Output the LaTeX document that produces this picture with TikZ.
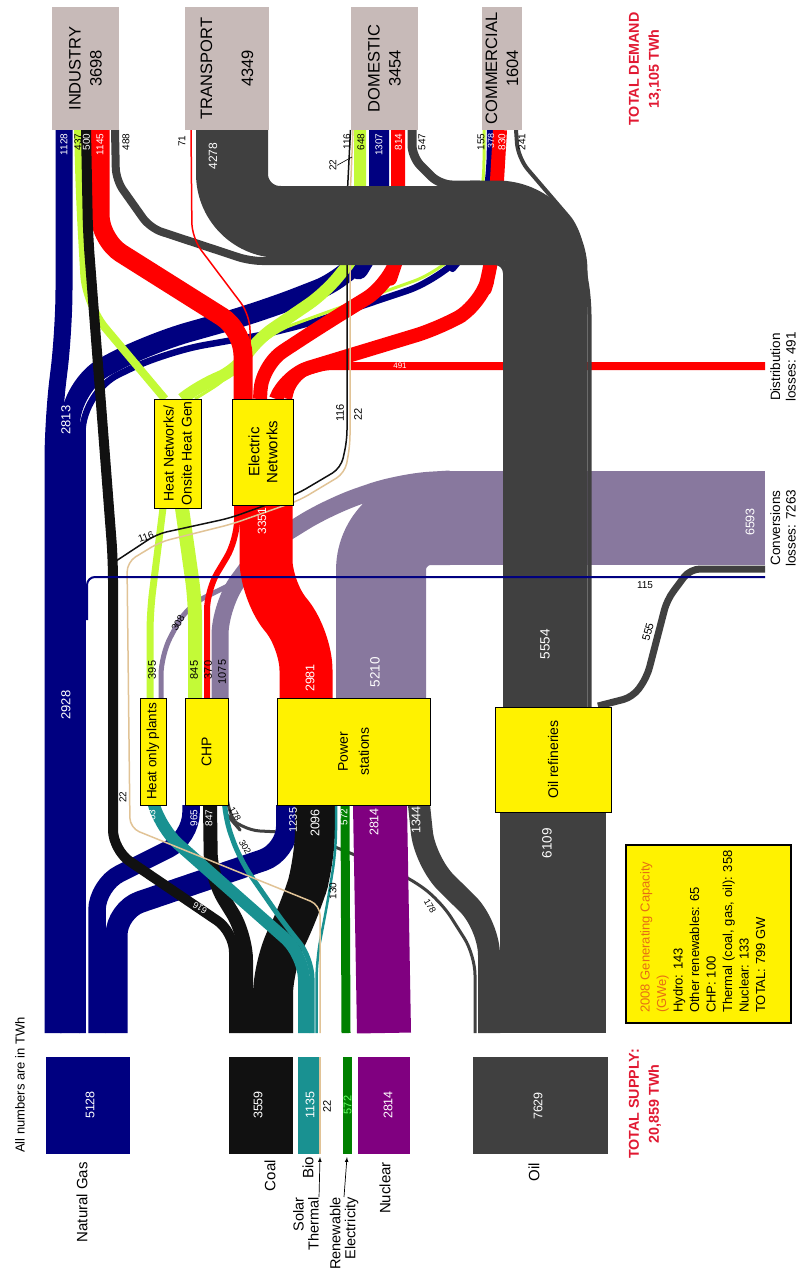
\documentclass[tikz,border=0pt]{standalone}
\usepackage{fontspec}
\setmainfont{Liberation Sans}

\newcommand{\fsz}[2]{\fontsize{#1}{#2}\selectfont}

% Flow colours
\definecolor{gas}{RGB}{0,0,128}
\definecolor{heat}{RGB}{195,250,55}
\definecolor{elec}{RGB}{255,0,0}
\definecolor{coal}{RGB}{17,17,17}
\definecolor{bio}{RGB}{25,145,145}
\definecolor{oil}{RGB}{64,64,64}
\definecolor{nuke}{RGB}{128,0,128}
\definecolor{renew}{RGB}{0,128,0}
\definecolor{loss}{RGB}{136,120,158}
\definecolor{solar}{RGB}{225,195,150}
\definecolor{demand}{RGB}{199,186,184}
\definecolor{total}{RGB}{225,25,50}
\definecolor{legorange}{RGB}{230,110,20}

\begin{document}
\begin{tikzpicture}[x=1pt, y=-1pt,
  flow/.style={line width=#1pt, line cap=butt, line join=round, rounded corners=20pt},
  proc/.style={draw=black, line width=0.8pt, fill=yellow, rotate=90, align=center, inner sep=0pt, font=\fsz{14}{17}},
  sector/.style={fill=demand, rotate=90, align=center, inner sep=0pt, font=\fsz{16.5}{21}},
  lbl/.style={rotate=90, inner sep=0pt, font=\fsz{15}{15}},
  num/.style={rotate=90, inner sep=0.5pt, font=\fsz{10}{11}},
  wnum/.style={num, text=white},
  bignum/.style={wnum, font=\fsz{12.5}{14}}
]
\useasboundingbox (0,0) rectangle (805,1274);

% ---- conversion losses
\fill[loss] (440,471) rectangle (765,565);
\draw[flow=90, loss, rounded corners=50pt] (381,698) -- (381,520) -- (450,520);
\draw[flow=17, loss, rounded corners=30pt] (220,698) -- (220,605) -- (262,548) -- (330,506) -- (400,482) -- (450,479);
\draw[flow=5, loss] (161,698) -- (161,655) -- (187,606) -- (240,580);

% ---- oil into CHP, power stations and refineries
\draw[flow=3, oil] (475,1033) -- (475,955) -- (440,900) -- (405,875) -- (300,833) -- (240,830) -- (227,815) -- (227,805);
\draw[flow=22, oil, rounded corners=30pt] (489,1033) -- (489,925) -- (425,862) -- (419,805);
\draw[flow=106, oil] (553,1033) -- (553,812);

% ---- natural gas
\draw[flow=17, gas, rounded corners=40pt] (53,1033) -- (53,420) -- (64,330) -- (64,130);
\draw[flow=20, gas, rounded corners=40pt] (70,1033) -- (70,385) -- (150,343) -- (260,312) -- (355,275) -- (379,235) -- (379,130);
\draw[flow=6.5, gas, rounded corners=40pt] (82.5,1033) -- (82.5,392) -- (165,352) -- (290,330) -- (445,278) -- (478,238) -- (490,190) -- (490,130);
\draw[flow=17.5, gas, rounded corners=25pt] (97,1033) -- (97,885) -- (191,838) -- (191,805);
\draw[flow=22, gas, rounded corners=25pt] (116.5,1033) -- (116.5,910) -- (287,852) -- (287,805);

% ---- heat
\draw[flow=7, heat] (150,698) -- (150,612) -- (163,508);
\draw[flow=14, heat] (195,698) -- (195,600) -- (182,508);
\draw[flow=8, heat, rounded corners=30pt] (165,399) -- (86,305) -- (80,200) -- (78,130);
\draw[flow=12, heat] (182,399) -- (200,385) -- (237,370) -- (256,340) -- (325,293) -- (360,250) -- (360,130);
\draw[flow=3, heat, rounded corners=30pt] (195,399) -- (238,372) -- (262,336) -- (330,311) -- (442,271) -- (474,235) -- (484,190) -- (484,130);

% ---- electricity
\draw[flow=53, elec, rounded corners=30pt] (306,698) -- (306,640) -- (266,590) -- (266,505);
\draw[flow=6, elec] (207,698) -- (207,590) -- (237,540) -- (237,505);
\draw[flow=19, elec, rounded corners=25pt] (243,399) -- (243,330) -- (100,240) -- (100,130);
\draw[flow=14, elec, rounded corners=25pt] (260,399) -- (262,365) -- (320,327) -- (388,285) -- (398,255) -- (398,130);
\draw[flow=14, elec, rounded corners=25pt] (276,399) -- (285,375) -- (440,328) -- (480,305) -- (492,265) -- (500,130);
\draw[flow=8, elec, rounded corners=15pt] (288,399) -- (293,378) -- (318,366) -- (765,366);

% ---- coal
\draw[flow=40, coal, rounded corners=30pt] (273,1033) -- (273,965) -- (300,910) -- (315,860) -- (315,805);
\draw[flow=14, coal, rounded corners=25pt] (246,1033) -- (246,935) -- (211,878) -- (210,805);
\draw[flow=10, coal] (234,1033) -- (234,932) -- (113,850) -- (113,560) -- (88,235) -- (86,130);

% ---- bio
\draw[flow=12, bio, rounded corners=25pt] (304,1033) -- (304,955) -- (160,828) -- (154,805);
\draw[flow=5, bio] (312,1033) -- (312,958) -- (285,925) -- (240,860) -- (224,815) -- (224,805);
\draw[flow=2.5, bio] (316.5,1033) -- (316.5,960) -- (328,900) -- (336,850) -- (336,805);

% ---- renewables and nuclear
\draw[flow=9, renew] (346,1033) -- (345,805);
\draw[flow=54, nuke] (384,1033) -- (380,805);

% ---- solar thermal and heat to domestic (thin lines)
\draw[flow=1.5, solar, rounded corners=10pt] (320,1033) -- (320,905) -- (130,828) -- (127,562) -- (160,542) -- (232,524) -- (300,500) -- (345,473) -- (350,445) -- (350,200) -- (353,130);
\draw[flow=1.5, coal, rounded corners=10pt] (113,563) -- (157,534) -- (230,518) -- (297,494) -- (341,468) -- (347,440) -- (347,200) -- (350.5,130);

% ---- oil products
\draw[flow=72, oil, rounded corners=48pt] (545,707) -- (545,222) -- (232,222) -- (232,130);
\draw[flow=8, oil, rounded corners=12pt] (507,707) -- (507,261) -- (250,261) -- (150,228) -- (116,180) -- (115,130);
\draw[flow=9, oil, rounded corners=86pt] (583,707) -- (583,185) -- (470,185);
\draw[flow=9, oil, rounded corners=12pt] (480,185) -- (440,185) -- (412,157) -- (412,130);
\draw[flow=4, oil, rounded corners=15pt] (589.5,707) -- (589.5,300) -- (578,228) -- (518,158) -- (516,130);
\draw[flow=7, oil, rounded corners=10pt] (598,706) -- (633,697) -- (647,677) -- (667,600) -- (690,569) -- (765,569);

% ---- thin lines on top
\draw[flow=1.5, elec, rounded corners=15pt] (250,399) -- (250,315) -- (192,238) -- (191,130);
\draw[flow=2, gas, rounded corners=8pt] (87,620) -- (87,577) -- (765,577);

% ---- supply bars
\fill[gas] (46,1057) rectangle (130,1154);
\fill[coal] (229,1057) rectangle (293,1154);
\fill[bio] (298,1057) rectangle (318.5,1154);
\fill[solar] (318.5,1057) rectangle (321,1154);
\fill[renew] (343,1057) rectangle (352,1154);
\fill[nuke] (358,1057) rectangle (410,1154);
\fill[oil] (473,1057) rectangle (608,1154);
\node[bignum] (sgas) at (90,1105) {5128};
\node[bignum] (scoal) at (258,1105) {3559};
\node[bignum] (sbio) at (310,1105) {1135};
\node[num, font=\fsz{11}{12}] (ssol) at (327,1106) {22};
\node[wnum, font=\fsz{11}{12}, text=green!60!white] (sren) at (347.5,1105) {572};
\node[bignum] (snuc) at (388,1105) {2814};
\node[bignum] (soil) at (538,1106) {7629};

\node[lbl, anchor=east] (lgas) at (82,1162) {Natural Gas};
\node[lbl, anchor=east] (lcoal) at (270,1160) {Coal};
\node[lbl, anchor=east] (lbio) at (308,1157) {Bio};
\node[lbl, anchor=east, align=right, font=\fsz{14.5}{15}] (lsol) at (306,1197) {Solar\\Thermal};
\node[lbl, anchor=east, align=right, font=\fsz{14.5}{15}] (lren) at (344,1197) {Renewable\\Electricity};
\node[lbl, anchor=east] (lnuc) at (385,1162) {Nuclear};
\node[lbl, anchor=east] (loil) at (534,1163) {Oil};
\coordinate (psol) at (320,1157);
\coordinate (pren) at (347,1157);
\draw[line width=0.7pt, -latex] (lsol.south east) -- (psol);
\draw[line width=0.7pt, -latex] (lren.east) -- (pren);
\node[rotate=90, anchor=west, inner sep=0pt, font=\fsz{13}{14}] (units) at (20,1153) {All numbers are in TWh};
\node[rotate=90, align=center, text=total, font=\bfseries\fsz{14.3}{20}] (tsup) at (645,1104) {TOTAL SUPPLY:\\20,859 TWh};

% ---- demand sectors
\node[sector, minimum width=123pt, minimum height=67pt] (ind) at (85.5,68.5) {INDUSTRY\\3698};
\node[sector, minimum width=123pt, minimum height=84pt] (trn) at (227,68.5) {TRANSPORT\\[20pt]4349};
\node[sector, minimum width=123pt, minimum height=67pt] (dom) at (384.5,68.5) {DOMESTIC\\3454};
\node[sector, minimum width=123pt, minimum height=40pt] (com) at (502,68.5) {COMMERCIAL\\1604};
\node[rotate=90, align=center, text=total, font=\bfseries\fsz{14.3}{20}] (tdem) at (645,69) {TOTAL DEMAND\\13,105 TWh};

% ---- conversion nodes
\node[proc, minimum width=107pt, minimum height=26pt, font=\fsz{13.5}{15}] (hop) at (153,751.5) {Heat only plants};
\node[proc, minimum width=107pt, minimum height=43pt] (chp) at (206.5,751.5) {CHP};
\node[proc, minimum width=107pt, minimum height=153pt, font=\fsz{14}{21}] (pst) at (353.5,751.5) {Power\\stations};
\node[proc, minimum width=105pt, minimum height=116pt] (ref) at (553,759.5) {Oil refineries};
\node[proc, minimum width=109pt, minimum height=47pt, font=\fsz{14}{18}] (hnet) at (177.5,453.5) {Heat Networks/\\Onsite Heat Gen};
\node[proc, minimum width=106pt, minimum height=61pt, font=\fsz{15}{18}] (enet) at (263,452) {Electric\\Networks};

% ---- losses labels
\node[rotate=90, align=center, font=\fsz{13.5}{15.5}] (ldist) at (783,367) {Distribution\\losses: 491};
\node[rotate=90, align=center, font=\fsz{13.5}{15.5}] (lconv) at (783,528) {Conversions\\losses: 7263};

% ---- generating capacity box
\draw[fill=yellow, line width=1.2pt] (626,845) rectangle (791,1023);
\node[rotate=90, anchor=north west, align=left, inner sep=0pt, font=\fsz{13}{16.5}] (cap) at (640,1013)
  {\textcolor{legorange}{2008 Generating Capacity}\\\textcolor{legorange}{(GWe)}\\Hydro: 143\\Other renewables: 65\\CHP: 100\\Thermal (coal, gas, oil): 358\\Nuclear: 133\\TOTAL: 799 GW};

% ---- flow values at the sectors
\node[wnum, anchor=east] (v1128) at (64,133) {1128};
\node[num, anchor=east] (v437) at (78,133) {437};
\node[wnum, anchor=east] (v500) at (86.5,133) {500};
\node[wnum, anchor=east] (v1145) at (100,133) {1145};
\node[num, anchor=east] (v488) at (126,133) {488};
\node[num, anchor=east] (v71) at (182,135) {71};
\node[wnum, anchor=east, font=\fsz{12}{13}] (v4278) at (213,142) {4278};
\node[num, anchor=east] (v116t) at (347,133) {116};
\node[num, anchor=east] (v22t) at (333,159) {22};
\draw[line width=0.6pt] (v22t.south) -- (352,157);
\node[num, anchor=east] (v648) at (361,133) {648};
\node[wnum, anchor=east] (v1307) at (379,133) {1307};
\node[wnum, anchor=east] (v814) at (398.5,133) {814};
\node[num, anchor=east] (v547) at (422,133) {547};
\node[num, anchor=east] (v155) at (481,133) {155};
\node[wnum, anchor=east, font=\fsz{9}{10}] (v378) at (491,133) {378};
\node[wnum, anchor=east] (v830) at (502,133) {830};
\node[num, anchor=east] (v241) at (522,133) {241};

% ---- flow values in the middle
\node[wnum, font=\fsz{13}{14}] (v2813) at (66,420) {2813};
\node[wnum, font=\fsz{13}{14}] (v2928) at (66,705) {2928};
\node[wnum, font=\fsz{12}{13}] (v3351) at (262,521) {3351};
\node[text=white, inner sep=0pt, font=\fsz{8}{9}] (v491) at (400,366) {491};
\node[num, rotate=-70] (v116d) at (146,537) {116};
\node[num, font=\fsz{11}{12}] (v116m) at (340,413) {116};
\node[num, font=\fsz{11}{12}] (v22m) at (358,414) {22};
\node[num, font=\fsz{11}{12}] (v395) at (152,670) {395};
\node[num, rotate=-30] (v308) at (178,623) {308};
\node[num, font=\fsz{11}{12}] (v845) at (194,670) {845};
\node[num, font=\fsz{11}{12}] (v370) at (208,670) {370};
\node[num, font=\fsz{11}{12}] (v1075) at (222,672) {1075};
\node[bignum] (v2981) at (310,678) {2981};
\node[bignum, font=\fsz{13.5}{14}] (v5210) at (375,672) {5210};
\node[bignum, font=\fsz{13.5}{14}] (v5554) at (545,644) {5554};
\node[num, font=\fsz{11}{12}, rotate=-15] (v555) at (648,632) {555};
\node[inner sep=0pt, font=\fsz{10}{11}] (v115) at (645,585) {115};
\node[bignum] (v6593) at (750,522) {6593};
\node[wnum] (v703) at (152,818) {703};
\node[wnum] (v965) at (194,818) {965};
\node[wnum] (v847) at (209,818) {847};
\node[num, font=\fsz{9}{10}, rotate=-150] (v178a) at (235,814) {178};
\node[num, font=\fsz{9}{10}, rotate=-150] (v302) at (245,847) {302};
\node[wnum, font=\fsz{11}{12}] (v1235) at (293,820) {1235};
\node[bignum] (v2096) at (315,823) {2096};
\node[wnum] (v572) at (344,817) {572};
\node[bignum] (v2814) at (374,822) {2814};
\node[bignum] (v1344) at (416,820) {1344};
\node[bignum, font=\fsz{13.5}{14}] (v6109) at (547,843) {6109};
\node[wnum, font=\fsz{9}{10}, rotate=56] (v616) at (200,908) {616};
\node[num] (v130) at (333,891) {130};
\node[num, font=\fsz{9}{10}, rotate=-150] (v178b) at (430,906) {178};
\node[num] (v22h) at (123,797) {22};
\end{tikzpicture}
\end{document}
